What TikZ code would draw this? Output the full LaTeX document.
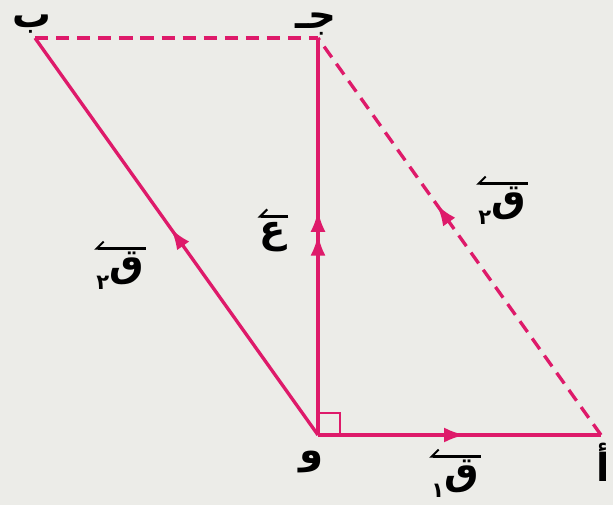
\documentclass[tikz,border=0pt]{standalone}
\usepackage{fontspec}
\usepackage{xcolor}
\usepackage{tikz}
\usetikzlibrary{arrows.meta,decorations.markings}
\TeXXeTstate=1
\newfontfamily\arabicfont[Script=Arabic]{DejaVu Sans}
\definecolor{vecred}{RGB}{222,26,106}
\definecolor{paper}{RGB}{236,236,232}
\newcommand{\bigar}{\fontsize{22}{24}\selectfont\arabicfont\bfseries}
\newcommand{\smallar}{\fontsize{12}{13}\selectfont\arabicfont\bfseries}
\newcommand{\vecq}[1]{\raisebox{-0.6ex}{\smallar #1}\bigar ق}

\begin{document}
\begin{tikzpicture}[x=0.02cm, y=-0.02cm,
    vecline/.style={draw=vecred, line width=1.9pt},
    dashline/.style={vecline, dash pattern=on 7.5pt off 4.5pt},
    vecbar/.style={line width=1.2pt, -{Straight Barb[right, length=4pt]}},
    midarrow/.style={postaction={decorate}, decoration={markings,
        mark=at position #1 with {\arrow{Latex[length=12pt,width=8.5pt]}}}},
    twoarrow/.style={postaction={decorate}, decoration={markings,
        mark=at position 0.505 with {\arrow{Latex[length=12pt,width=8.5pt]}},
        mark=at position 0.565 with {\arrow{Latex[length=12pt,width=8.5pt]}}}},
    every node/.style={font=\bigar, inner sep=1pt}]
    \fill[paper] (0,0) rectangle (613,505);
    \useasboundingbox (0,0) rectangle (613,505);
    \coordinate (O) at (318,435);
    \coordinate (A) at (601,435);
    \coordinate (C) at (318,38);
    \coordinate (B) at (35,38);
    \node (lblB) at (32,24) {\beginR ب\endR};
    \node (lblC) at (316,24) {\beginR جـ\endR};
    \node (lblO) at (312,462) {\beginR و\endR};
    \node (lblA) at (603,462) {\beginR أ\endR};
    \node (qone) at (455,479) {\vecq{١}};
    \node (qtwoL) at (120,271) {\vecq{٢}};
    \node (qtwoR) at (502,206) {\vecq{٢}};
    \node (ayn) at (273,237) {ع};
    \draw[vecbar] ([yshift=1pt]qone.north east) -- ([yshift=1pt]qone.north west);
    \draw[vecbar] ([yshift=1pt]qtwoL.north east) -- ([yshift=1pt]qtwoL.north west);
    \draw[vecbar] ([yshift=1pt]qtwoR.north east) -- ([yshift=1pt]qtwoR.north west);
    \draw[vecbar] ([yshift=2pt]ayn.north east) -- ([yshift=2pt]ayn.north west);
    \draw[dashline] (B) -- (C);
    \draw[dashline, midarrow=0.58] (A) -- (C);
    \draw[vecline, midarrow=0.52] (O) -- (B);
    \draw[vecline, twoarrow] (O) -- (C);
    \draw[vecline, midarrow=0.52] (O) -- (A);
    \draw[draw=vecred, line width=1.3pt] (O) ++(0,-22) -| ++(22,22);
  \end{tikzpicture}
\end{document}
